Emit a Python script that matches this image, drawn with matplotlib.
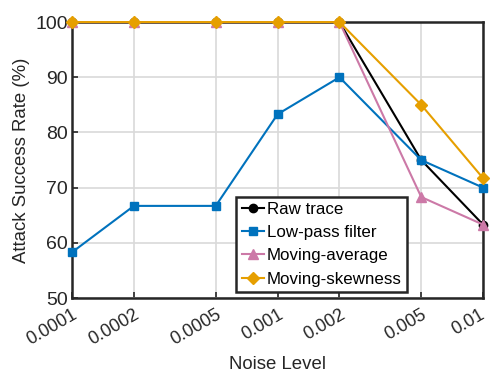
import matplotlib
matplotlib.use("Agg")
import matplotlib.pyplot as plt
import matplotlib.transforms as mtransforms

noise = [0.0001, 0.0002, 0.0005, 0.001, 0.002, 0.005, 0.01]
tick_labels = ["0.0001", "0.0002", "0.0005", "0.001", "0.002", "0.005", "0.01"]
raw_trace = [100, 100, 100, 100, 100, 75.0, 63.3]
low_pass = [58.3, 66.7, 66.7, 83.3, 90.0, 75.0, 70.0]
moving_avg = [100, 100, 100, 100, 100, 68.3, 63.3]
moving_skew = [100, 100, 100, 100, 100, 85.0, 71.7]

plt.rcParams['font.family'] = ['Liberation Sans', 'DejaVu Sans']

fig = plt.figure(figsize=(4.9, 3.74), dpi=100)
ax = fig.add_axes([0.147, 0.203, 0.839, 0.738])

kw = dict(lw=1.5, clip_on=False)
ax.plot(noise, raw_trace, '-o', color='black', ms=6, label='Raw trace', zorder=3, **kw)
ax.plot(noise, low_pass, '-s', color='#0072BD', ms=6, label='Low-pass filter', zorder=4, **kw)
ax.plot(noise, moving_avg, '-^', color='#CC79A7', ms=7, label='Moving-average', zorder=5, **kw)
ax.plot(noise, moving_skew, '-D', color='#E69F00', ms=6, label='Moving-skewness', zorder=6, **kw)

ax.set_xscale('log')
ax.set_xlim(0.0001, 0.01)
ax.set_ylim(50, 100)
ax.set_xticks(noise)
ax.set_xticklabels(tick_labels, rotation=30, ha='right', rotation_mode='anchor')
ax.minorticks_off()
ax.set_yticks([50, 60, 70, 80, 90, 100])
ax.tick_params(direction='in', labelsize=14, width=1.2, length=4, colors='#262626')
ax.tick_params(axis='x', pad=6, labelsize=13)
ax.tick_params(axis='y', pad=3)
last = ax.get_xticklabels()[-1]
last.set_transform(last.get_transform() +
                   mtransforms.ScaledTranslation(-4 / 100, 0, fig.dpi_scale_trans))
ax.grid(True, color='#d9d9d9', lw=1.2)
ax.set_axisbelow(True)
for s in ax.spines.values():
    s.set_linewidth(1.8)
    s.set_color('#262626')
ax.set_xlabel('Noise Level', fontsize=13.4, color='#262626', labelpad=5)
ax.set_ylabel('Attack Success Rate (%)', fontsize=13.4, color='#262626', labelpad=4)

leg = ax.legend(loc='upper left', bbox_to_anchor=(0.40, 0.366), borderaxespad=0,
                fancybox=False, edgecolor='#262626', fontsize=12.2, handlelength=1.3,
                handletextpad=0.2, labelspacing=0.48, borderpad=0.3, framealpha=1)
leg.get_frame().set_linewidth(1.8)

fig.savefig('out.png', dpi=100)
